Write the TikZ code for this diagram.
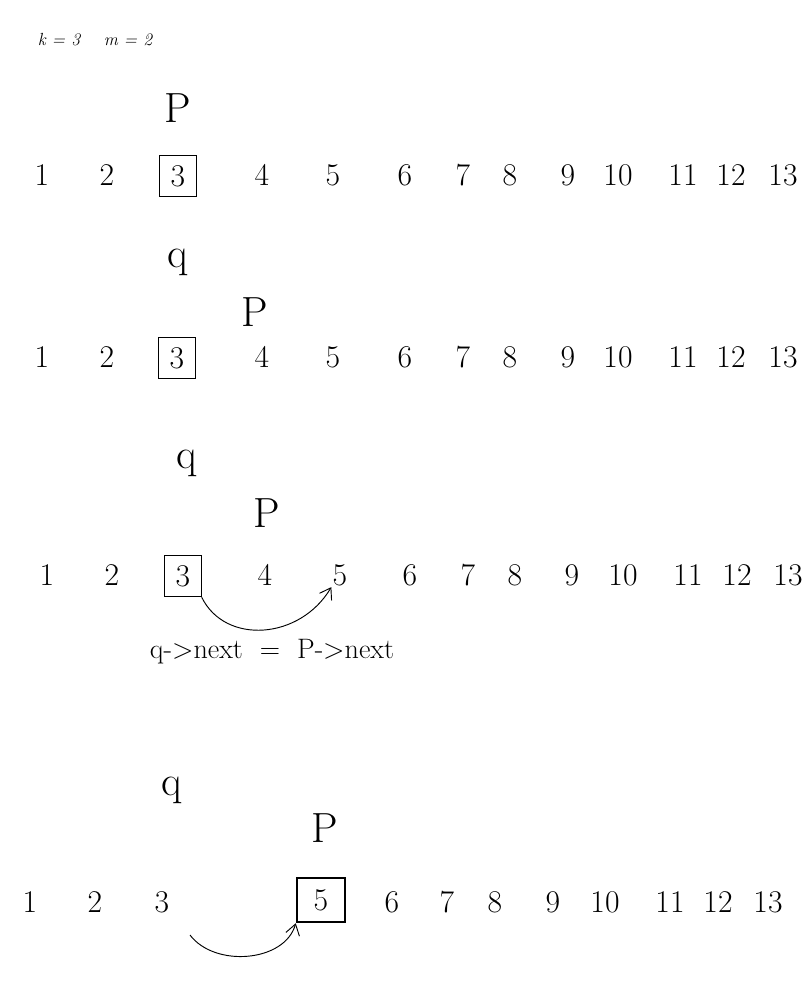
\documentclass[tikz,border=0pt]{standalone}
\usetikzlibrary{arrows.meta}

\begin{document}
\begin{tikzpicture}[x=0.03cm,y=-0.03cm,
    num/.style={font=\fontsize{27}{30}\selectfont, inner sep=1pt},
    ptr/.style={font=\fontsize{36}{40}\selectfont, inner sep=1pt},
    boxed/.style={draw, semithick, minimum width=1.1cm, minimum height=1.25cm},
    bigbox/.style={draw, line width=2.2pt, minimum width=1.44cm, minimum height=1.32cm},
    link/.style={thick, -{Straight Barb[length=9pt,width=12pt]}}]
    \useasboundingbox (0,0) rectangle (811,999);

    % En-tête
    \node[font=\fontsize{15}{17}\selectfont\itshape] (head) at (95,40) {k = 3 \quad m = 2};

    % Ligne 1 : p sur 3
    \node[ptr] (p1) at (178,108) {P};
    \node[num, boxed] (a3) at (178,176) {3};
    \foreach \lab/\xx in {1/42,2/107,4/262,5/333,6/405,7/463,8/510,9/568,10/618,11/683,12/731,13/783}
        \node[num] (a\lab) at (\xx,175) {\lab};

    % Ligne 2 : q sur 3, p sur 4
    \node[ptr] (q2) at (178,262) {q};
    \node[ptr] (p2) at (255,312) {P};
    \node[num, boxed] (b3) at (177,358) {3};
    \foreach \lab/\xx in {1/42,2/107,4/262,5/333,6/405,7/463,8/510,9/568,10/618,11/683,12/731,13/783}
        \node[num] (b\lab) at (\xx,357) {\lab};

    % Ligne 3 : on saute p
    \node[ptr] (q3) at (187,463) {q};
    \node[ptr] (p3) at (267,513) {P};
    \node[num, boxed] (c3) at (183,576) {3};
    \foreach \lab/\xx in {1/47,2/112,4/265,5/340,6/410,7/468,8/515,9/572,10/623,11/688,12/737,13/788}
        \node[num] (c\lab) at (\xx,575) {\lab};
    \draw[link] (c3.south east) .. controls (225,645) and (300,640) .. (c5.south west);
    \node[font=\fontsize{24}{28}\selectfont] (eq) at (272,652) {q->next \ = \ P->next};

    % Ligne 4 : 4 supprimé, p sur 5
    \node[ptr] (q4) at (172,790) {q};
    \node[ptr] (p4) at (325,828) {P};
    \node[num, bigbox] (d5) at (321,900) {5};
    \foreach \lab/\xx in {1/30,2/95,3/162,6/392,7/447,8/495,9/553,10/605,11/670,12/718,13/768}
        \node[num] (d\lab) at (\xx,902) {\lab};
    \coordinate (d3t) at (190,935);
    \draw[link] (d3t) .. controls (215,968) and (285,962) .. (d5.south west);
\end{tikzpicture}
\end{document}
